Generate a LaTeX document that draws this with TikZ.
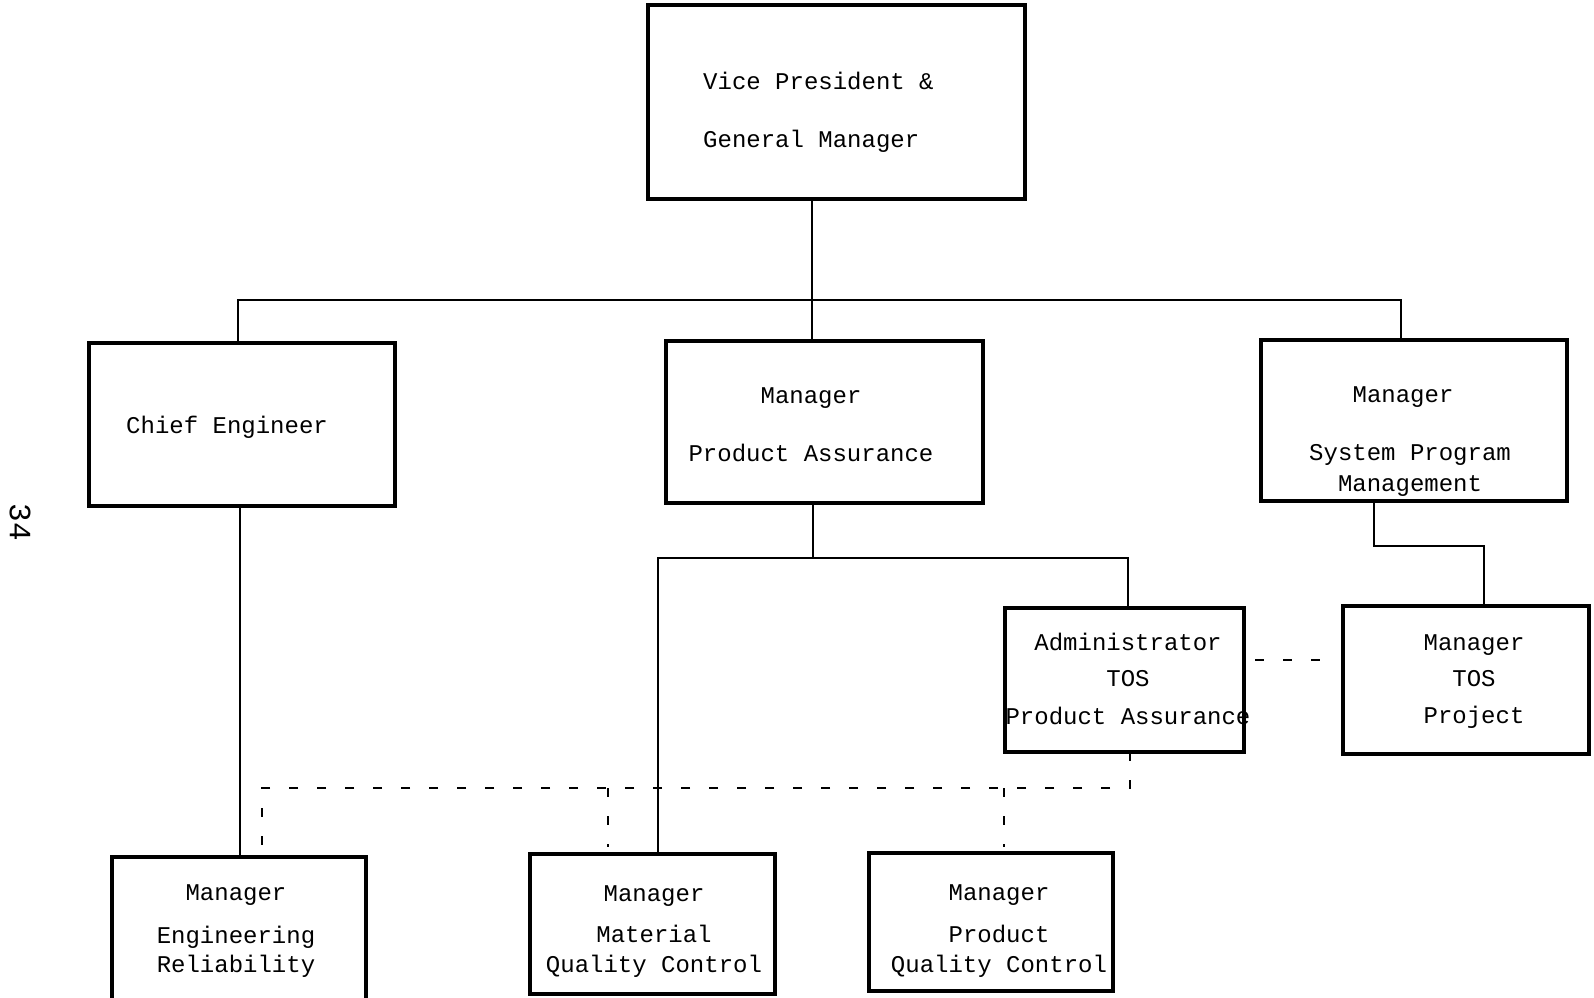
\documentclass[tikz,border=0pt]{standalone}
\usepackage{fontspec}
\newfontfamily\tw{Liberation Mono}
\usetikzlibrary{calc}
\tikzset{
  box/.style={draw, line width=3.2pt, rectangle, inner sep=0pt, outer sep=0pt},
  txt/.style={anchor=base, inner sep=0pt, font=\tw\fontsize{24}{29}\selectfont},
  txtw/.style={anchor=base west, inner sep=0pt, font=\tw\fontsize{24}{29}\selectfont},
  conn/.style={line width=2.4pt},
  dconn/.style={line width=2.2pt, dash pattern=on 9pt off 19pt}
}
\begin{document}
\begin{tikzpicture}[x=1pt,y=-1pt]
\useasboundingbox (0,0) rectangle (1594,997);
% boxes
\node[box, minimum width=377pt, minimum height=194pt] (vp) at (836.5,102) {};
\node[box, minimum width=306pt, minimum height=163pt] (ce) at (242,424.5) {};
\node[box, minimum width=317pt, minimum height=162pt] (pa) at (824.5,422) {};
\node[box, minimum width=306pt, minimum height=161pt] (spm) at (1414,420.5) {};
\node[box, minimum width=239pt, minimum height=144pt] (adm) at (1124.5,680) {};
\node[box, minimum width=246pt, minimum height=148pt] (mtos) at (1466,680) {};
\node[box, minimum width=254pt, minimum height=150pt] (er) at (239,932) {};
\node[box, minimum width=245pt, minimum height=140pt] (mq) at (652.5,924) {};
\node[box, minimum width=244pt, minimum height=138pt] (pq) at (991,922) {};
% texts
\node[txtw] (vp1) at (703,89) {Vice President \&};
\node[txtw] (vp2) at (703,147) {General Manager};
\node[txtw] (ce1) at (126,433) {Chief Engineer};
\node[txt] (pa1) at (811,403) {Manager};
\node[txt] (pa2) at (811,461) {Product Assurance};
\node[txt] (spm1) at (1403,402) {Manager};
\node[txt] (spm2) at (1410,460) {System Program};
\node[txt] (spm3) at (1410,491) {Management};
\node[txt] (ad1) at (1128,650) {Administrator};
\node[txt] (ad2) at (1128,686) {TOS};
\node[txt] (ad3) at (1128,724) {Product Assurance};
\node[txt] (mt1) at (1474,650) {Manager};
\node[txt] (mt2) at (1474,686) {TOS};
\node[txt] (mt3) at (1474,723) {Project};
\node[txt] (er1) at (236,900) {Manager};
\node[txt] (er2) at (236,943) {Engineering};
\node[txt] (er3) at (236,972) {Reliability};
\node[txt] (mq1) at (654,901) {Manager};
\node[txt] (mq2) at (654,942) {Material};
\node[txt] (mq3) at (654,972) {Quality Control};
\node[txt] (pq1) at (999,900) {Manager};
\node[txt] (pq2) at (999,942) {Product};
\node[txt] (pq3) at (999,972) {Quality Control};
\node[rotate=-90, inner sep=0pt, font=\tw\fontsize{31}{36}\selectfont] (pg) at (20,522) {34};
% junction coordinates
\coordinate (j1) at (812,300);
\coordinate (j2) at (813,558);
\coordinate (j3) at (1374,546);
\coordinate (d1) at (1130,788);
% solid connectors
\draw[conn] ($(vp.south west)+(164,0)$) -- (j1);
\draw[conn] ($(ce.north west)+(149,0)$) |- (j1) -| ($(spm.north west)+(140,0)$);
\draw[conn] (j1) -- ($(pa.north west)+(146,0)$);
\draw[conn] ($(ce.south west)+(151,0)$) -- ($(er.north west)+(128,0)$);
\draw[conn] ($(pa.south west)+(147,0)$) -- (j2);
\draw[conn] ($(mq.north west)+(128,0)$) |- (j2) -| ($(adm.north west)+(123,0)$);
\draw[conn] ($(pq.north west)+(124,0)$) -- ($(pq.north west)+(124,0)$ |- j2);
\draw[conn] ($(spm.south west)+(113,0)$) -- (j3) -| ($(mtos.north west)+(141,0)$);
% dashed connectors
\draw[dconn] ($(adm.east)+(11,-20)$) -- ($(mtos.west)+(-21,-20)$);
\draw[dconn] ($(adm.south west)+(125,0)$) -- (d1) -- (262,788) -- (262,847);
\draw[dconn] (608,788) -- (608,847);
\draw[dconn] (1004,788) -- (1004,847);
\end{tikzpicture}
\end{document}
